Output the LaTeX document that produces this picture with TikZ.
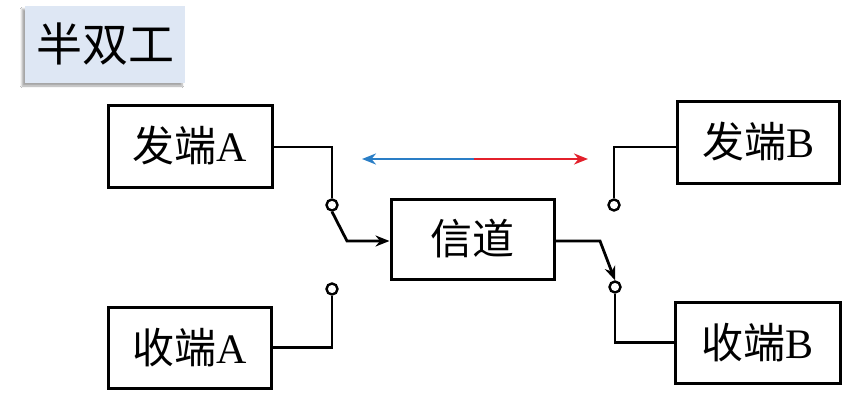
\documentclass[tikz,border=0pt]{standalone}
\usepackage{fontspec}
\setmainfont{Liberation Serif}
\newfontfamily\cjk{Noto Sans CJK SC}
\usetikzlibrary{arrows.meta,shadows.blur}

\definecolor{titlefill}{HTML}{DEE7F4}
\definecolor{dirblue}{HTML}{2A7EC6}
\definecolor{dirred}{HTML}{E3202B}

\tikzset{
  unitbox/.style={draw=black, line width=3pt, fill=white, inner sep=0pt,
    font=\fontsize{42}{48}\selectfont},
  contact/.style={circle, draw=black, line width=2.4pt, fill=white,
    inner sep=0pt, minimum size=11pt},
  wire/.style={line width=2.8pt, line join=miter},
  sig/.style={-{Stealth[length=14pt,width=11pt]}},
  dirline/.style={line width=2.6pt}
}

\begin{document}
\begin{tikzpicture}[x=1pt,y=-1pt]
  \useasboundingbox[fill=white] (0,0) rectangle (856,405);

  % title tag
  \node[fill=titlefill, minimum width=160pt, minimum height=77pt,
        blur shadow={shadow xshift=-3pt, shadow yshift=-3pt, shadow blur steps=6, shadow opacity=35},
        font=\fontsize{46}{52}\selectfont\cjk] (title) at (105,44.5) {半双工};

  % terminals and channel
  \node[unitbox, minimum width=164pt, minimum height=82pt] (fa) at (190,146) {{\cjk 发端}A};
  \node[unitbox, minimum width=163pt, minimum height=81pt] (sa) at (189.5,347.5) {{\cjk 收端}A};
  \node[unitbox, minimum width=163pt, minimum height=80pt] (xd) at (472.5,239) {\cjk 信道};
  \node[unitbox, minimum width=162pt, minimum height=82pt] (fb) at (758,142) {{\cjk 发端}B};
  \node[unitbox, minimum width=165pt, minimum height=81pt] (sb) at (757.5,342.5) {{\cjk 收端}B};

  % switch contacts
  \node[contact] (c1) at (332,205) {};
  \node[contact] (c2) at (332,289) {};
  \node[contact] (c3) at (614,205) {};
  \node[contact] (c4) at (615,287) {};

  % switch arms
  \coordinate (armA) at (347,241);
  \coordinate (armB) at (600,241);

  % side A
  \draw[wire] (fa.east |- {(0,147)}) -| (c1.north);
  \draw[wire, sig] (c1.south) -- (armA) -- (armA -| xd.west);
  \draw[wire] (c2.south) |- (sa.east);

  % side B
  \draw[wire, sig] (armB -| xd.east) -- (armB) -- (c4.north);
  \draw[wire] (c3.north) |- (fb.west |- {(0,147)});
  \draw[wire] (c4.south) |- (sb.west);

  % transmission direction
  \coordinate (dl) at (362,159);
  \coordinate (dm) at (474,159);
  \coordinate (dr) at (588,159);
  \draw[dirline, dirblue, {Stealth[length=14pt,width=11pt]}-] (dl) -- (dm);
  \draw[dirline, dirred, -{Stealth[length=14pt,width=11pt]}] (dm) -- (dr);
\end{tikzpicture}
\end{document}
